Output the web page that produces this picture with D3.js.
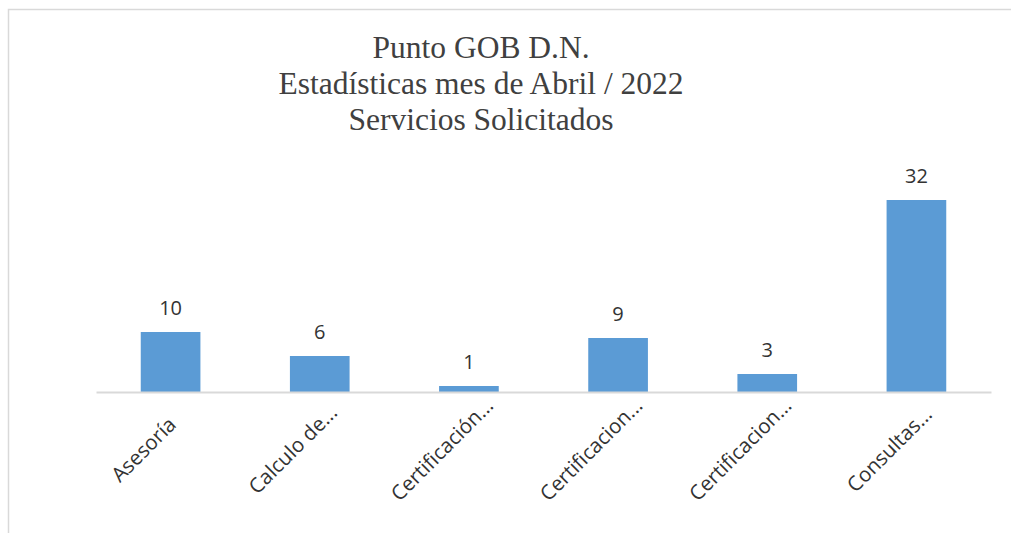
<!DOCTYPE html>
<html>
<head>
<meta charset="utf-8">
<script src="https://cdn.jsdelivr.net/npm/d3@7"></script>
<style>
  body { margin: 0; background: #fff; }
  svg { display: block; }
</style>
</head>
<body>
<div id="chart"></div>
<script>
// Chart data
const categories = ["Asesoría", "Calculo de...", "Certificación...", "Certificacion...", "Certificacion...", "Consultas..."];
const values = [10, 6, 1, 9, 3, 32];
const titleLines = ["Punto GOB D.N.", "Estadísticas mes de Abril / 2022", "Servicios Solicitados"];

const width = 1011, height = 533;
const plot = {left: 96, right: 991, top: 182, bottom: 392};

const svg = d3.select("#chart").append("svg")
    .attr("width", width)
    .attr("height", height);

// chart frame (extends past right/bottom edges like the screenshot)
svg.append("rect")
    .attr("x", 8.5).attr("y", 9.5)
    .attr("width", 1020).attr("height", 540)
    .attr("fill", "#fff")
    .attr("stroke", "#d9d9d9")
    .attr("stroke-width", 1.5);

// use index keys so repeated labels get their own band
const xScale = d3.scaleBand()
    .domain(categories.map((d, i) => i))
    .range([plot.left, plot.right])
    .paddingInner(0.6)
    .paddingOuter(0.3);

const yScale = d3.scaleLinear()
    .domain([0, 35])
    .range([plot.bottom, plot.top]);

// title
svg.append("text")
    .attr("x", 481)
    .attr("y", 58)
    .attr("text-anchor", "middle")
    .style("font-family", "'Liberation Serif', 'DejaVu Serif', serif")
    .style("font-size", "31.5px")
    .style("fill", "#404040")
  .selectAll("tspan")
  .data(titleLines)
  .enter().append("tspan")
    .attr("x", 481)
    .attr("dy", (d, i) => i === 0 ? 0 : 36)
    .text(d => d);

// bars
svg.selectAll(".bar")
    .data(values)
    .enter().append("rect")
    .attr("class", "bar")
    .attr("x", (d, i) => xScale(i))
    .attr("y", d => yScale(d))
    .attr("width", xScale.bandwidth())
    .attr("height", d => yScale(0) - yScale(d))
    .attr("fill", "#5b9bd5");

// value labels
svg.selectAll(".label")
    .data(values)
    .enter().append("text")
    .attr("class", "label")
    .attr("x", (d, i) => xScale(i) + xScale.bandwidth() / 2)
    .attr("y", d => yScale(d) - 17)
    .attr("text-anchor", "middle")
    .style("font-family", "'Open Sans', 'Noto Sans', sans-serif")
    .style("font-size", "20px")
    .style("fill", "#333")
    .text(d => d);

// x axis
const xAxis = svg.append("g")
    .attr("transform", `translate(0,${plot.bottom})`)
    .call(d3.axisBottom(xScale).tickSize(0).tickSizeOuter(0).tickFormat(i => categories[i]));

xAxis.select(".domain")
    .attr("stroke", "#d9d9d9")
    .attr("stroke-width", 2);

// labels are centred on a point left of the tick, then rotated
xAxis.selectAll("text")
    .style("font-family", "'Open Sans', 'Noto Sans', sans-serif")
    .style("font-size", "20.5px")
    .style("fill", "#333")
    .attr("text-anchor", "middle")
    .attr("dy", "0.35em")
    .attr("y", 0)
    .attr("transform", "translate(-27,57.5) rotate(-45)");
</script>
</body>
</html>
